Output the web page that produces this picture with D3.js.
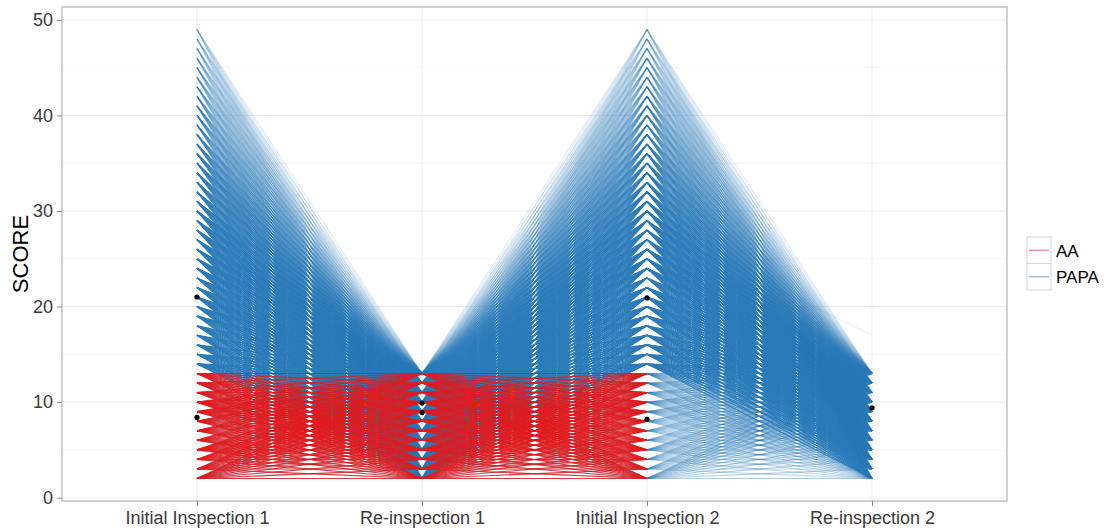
<!DOCTYPE html>
<html lang="en">
  <head>
    <meta charset="utf-8">
    <title>Inspection scores</title>
    <script src="https://d3js.org/d3.v7.min.js"></script>
    <style type="text/css">
      html, body {
        margin: 0; padding: 0;
        background: #fff;
        font-family: "Liberation Sans", Arial, sans-serif;
      }
    </style>
  </head>

  <body>
    <svg width="1115" height="532"></svg>

    <script type="text/javascript">

      // the four inspections on the x axis
      var stages = ["Initial Inspection 1", "Re-inspection 1", "Initial Inspection 2", "Re-inspection 2"];

      // score levels seen on each axis
      var initialLevels = [2, 3, 4, 5, 6, 7, 8, 9, 10, 11, 12, 13, 14, 15, 16, 17, 18, 19, 20, 21, 22, 23, 24, 25,
                           26, 27, 28, 29, 30, 31, 32, 33, 34, 35, 36, 37, 38, 39, 40, 41, 42, 43, 44, 45, 46, 47, 48, 49];
      var reinspLevels = [2, 3, 4, 5, 6, 7, 8, 9, 10, 11, 12, 13];

      var papaInitial1Count = [4, 3, 3, 3, 3, 3, 4, 4, 4, 4, 5, 5,
                               150, 130, 113, 98, 85, 73, 64, 55, 48, 41, 36, 31, 27, 23, 20, 18, 15, 13,
                               11, 10, 9, 8, 7, 6, 5, 4.2, 3.6, 3.2, 2.7, 2.4, 2.1, 1.8, 1.5, 1.4, 1.2, 1.0];
      var papaInitial2Count = [4, 3, 3, 3, 3, 3, 3.2, 3.4, 3.6, 4, 4.4, 5,
                               145, 128, 112, 97, 84, 73, 63, 55, 48, 42, 36, 31, 27, 23, 20, 17, 15, 13,
                               11, 10, 8.5, 7.5, 6.5, 5.5, 4.8, 4.2, 3.6, 3.1, 2.7, 2.3, 2, 1.8, 1.5, 1.3, 1.1, 1.0];
      var papaReinsp1Weight = [0.9, 0.8, 0.8, 0.9, 0.9, 1, 1, 1, 1.1, 1.1, 1.2, 1.2];
      var papaReinsp2Weight = [1, 0.9, 0.9, 0.9, 1, 1, 1, 1.1, 1.1, 1.1, 1.2, 1.2];

      // AA restaurants only have scores 2-13 and no second re-inspection
      var aaInitial1Count = [14, 14, 14, 14, 14, 14, 15, 15, 15, 16, 16, 16];
      var aaReinsp1Weight = [1, 1, 1, 1, 1, 1, 1, 1, 1, 1, 1, 1];
      var aaInitial2Count = [14, 14, 14, 14, 14, 14, 15, 15, 15, 16, 16, 16];

      // one odd PAPA record: Initial 2 -> Re-inspection 2
      var strayLine = [28.5, 17];

      // group means (black dots)
      var aaMeans = [8.4, 9.9, 8.2, null];
      var papaMeans = [21.0, 8.9, 20.9, 9.4];

      var groups = ["AA", "PAPA"];
      var colors = {AA: "#e41a1c", PAPA: "#2b7bb9"};

      // careful: "top" is taken by window.top
      var panelLeft = 62, panelRight = 1007, panelTop = 7, panelBottom = 501;
      var baseAlpha = 0.12;

      var svg = d3.select("svg");

      var x = d3.scalePoint()
                .domain(stages)
                .range([panelLeft, panelRight])
                .padding(0.6);

      var y = d3.scaleLinear()
                .domain([-0.35, 51.35])
                .range([panelBottom, panelTop]);

      // grid
      var gridG = svg.append("g");
      gridG.selectAll(".minor")
           .data([5, 15, 25, 35, 45])
           .enter().append("line")
           .attr("x1", panelLeft).attr("x2", panelRight)
           .attr("y1", d => y(d)).attr("y2", d => y(d))
           .attr("stroke", "#f6f6f6").attr("stroke-width", 1);
      gridG.selectAll(".major")
           .data([0, 10, 20, 30, 40, 50])
           .enter().append("line")
           .attr("x1", panelLeft).attr("x2", panelRight)
           .attr("y1", d => y(d)).attr("y2", d => y(d))
           .attr("stroke", "#ececec").attr("stroke-width", 1);
      gridG.selectAll(".vert")
           .data(stages)
           .enter().append("line")
           .attr("x1", d => x(d)).attr("x2", d => x(d))
           .attr("y1", panelTop).attr("y2", panelBottom)
           .attr("stroke", "#ececec").attr("stroke-width", 1);

      // segments between two neighbouring axes, all level pairs, weighted
      function segments(group, from, to, fromLevels, fromCount, toLevels, toWeight) {
        var out = [];
        fromLevels.forEach(function(a, i) {
          toLevels.forEach(function(b, j) {
            out.push({group: group, x1: stages[from], x2: stages[to], a: a, b: b, n: fromCount[i] * toWeight[j]});
          });
        });
        return out;
      }

      var papaSegs = []
        .concat(segments("PAPA", 0, 1, initialLevels, papaInitial1Count, reinspLevels, papaReinsp1Weight))
        .concat(segments("PAPA", 1, 2, reinspLevels, papaReinsp1Weight, initialLevels, papaInitial2Count))
        .concat(segments("PAPA", 2, 3, initialLevels, papaInitial2Count, reinspLevels, papaReinsp2Weight));
      papaSegs.push({group: "PAPA", x1: stages[2], x2: stages[3], a: strayLine[0], b: strayLine[1], n: 1});

      var aaSegs = []
        .concat(segments("AA", 0, 1, reinspLevels, aaInitial1Count, reinspLevels, aaReinsp1Weight))
        .concat(segments("AA", 1, 2, reinspLevels, aaReinsp1Weight, reinspLevels, aaInitial2Count));

      var lineG = svg.append("g");
      lineG.selectAll("line")
           .data(papaSegs.concat(aaSegs))
           .enter().append("line")
           .attr("x1", d => x(d.x1)).attr("x2", d => x(d.x2))
           .attr("y1", d => y(d.a)).attr("y2", d => y(d.b))
           .attr("stroke", d => colors[d.group])
           .attr("stroke-width", 1.1)
           .attr("stroke-opacity", d => 1 - Math.pow(1 - baseAlpha, d.n));

      // means
      var meanPts = [];
      stages.forEach(function(s, i) {
        if (aaMeans[i] != null) meanPts.push({s: s, v: aaMeans[i]});
        if (papaMeans[i] != null) meanPts.push({s: s, v: papaMeans[i]});
      });
      svg.append("g").selectAll("circle")
         .data(meanPts)
         .enter().append("circle")
         .attr("cx", d => x(d.s)).attr("cy", d => y(d.v))
         .attr("r", 2.6).attr("fill", "#000");

      // panel border
      svg.append("rect")
         .attr("x", panelLeft).attr("y", panelTop)
         .attr("width", panelRight - panelLeft).attr("height", panelBottom - panelTop)
         .attr("fill", "none").attr("stroke", "#b8b8b8").attr("stroke-width", 1.3);

      // axes
      var yAxis = svg.append("g")
                     .attr("transform", "translate(" + panelLeft + ",0)")
                     .call(d3.axisLeft(y).tickValues([0, 10, 20, 30, 40, 50]).tickSize(5).tickPadding(4));
      var xAxis = svg.append("g")
                     .attr("transform", "translate(0," + panelBottom + ")")
                     .call(d3.axisBottom(x).tickSize(5).tickPadding(5));
      [yAxis, xAxis].forEach(function(ax) {
        ax.select(".domain").remove();
        ax.selectAll(".tick line").attr("stroke", "#888");
        ax.selectAll(".tick text")
          .attr("fill", "#3a3a3a")
          .style("font-size", "18px")
          .style("font-family", "'Liberation Sans', Arial, sans-serif");
      });

      svg.append("text")
         .attr("transform", "translate(28,254) rotate(-90)")
         .attr("text-anchor", "middle")
         .style("font-size", "22px")
         .text("SCORE");

      // legend
      var legend = svg.append("g").attr("transform", "translate(1027,237)");
      groups.forEach(function(g, i) {
        var row = legend.append("g").attr("transform", "translate(0," + (i * 26.5) + ")");
        row.append("rect")
           .attr("width", 24).attr("height", 26.5)
           .attr("fill", "#fff").attr("stroke", "#d6d6d6").attr("stroke-width", 1);
        row.append("line")
           .attr("x1", 2).attr("x2", 22)
           .attr("y1", 13.25).attr("y2", 13.25)
           .attr("stroke", colors[g]).attr("stroke-opacity", 0.55).attr("stroke-width", 1.2);
        row.append("text")
           .attr("x", 29).attr("y", 19.5)
           .style("font-size", "17px")
           .text(g);
      });

    </script>
  </body>
</html>
